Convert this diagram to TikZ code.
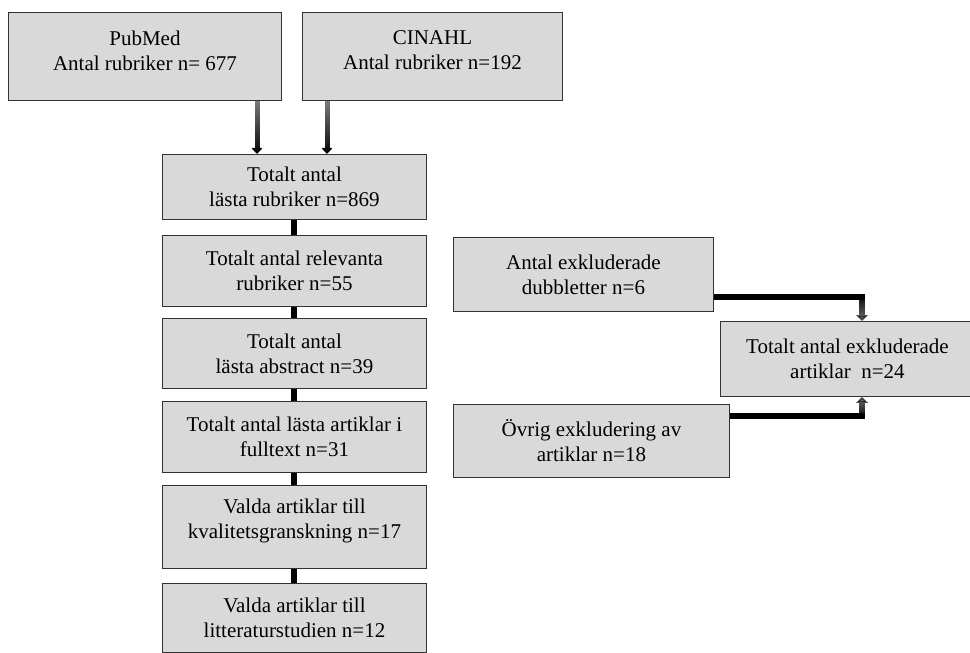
\documentclass[tikz,border=0pt]{standalone}
\usepackage{fontspec}
\setmainfont{Liberation Serif}
\usetikzlibrary{arrows.meta,fadings}
\definecolor{boxgray}{HTML}{D9D9D9}
\tikzfading[name=fadeup, top color=transparent!50, middle color=transparent!0, bottom color=transparent!0]
\tikzfading[name=fadedown, top color=transparent!0, middle color=transparent!10, bottom color=transparent!50]
\begin{document}
\begin{tikzpicture}[x=1pt,y=-1pt,
  box/.style={draw=black!80, line width=0.9pt, fill=boxgray, anchor=north west,
    inner sep=0pt, align=center, font=\fontsize{21}{25}\selectfont},
  txt/.style={align=center, inner sep=0pt, font=\fontsize{21}{25}\selectfont},
  chain/.style={line width=6pt, black},
  toparrow/.style={line width=5pt, black, -{Triangle[width=11pt,length=6pt]}, path fading=fadeup},
  sidebar/.style={line width=6pt, black, shorten >=-3pt},
  sidearrow/.style={line width=6pt, black, -{Triangle[width=12pt,length=6pt]}}]
\useasboundingbox (0,0) rectangle (970,653);

% left column
\node[box, minimum width=273pt, minimum height=88pt,
  label={[txt,yshift=6pt]center:{PubMed\\Antal rubriker n= 677}}] (pub) at (8,12) {};
\node[box, minimum width=260pt, minimum height=88pt,
  label={[txt,yshift=6pt]center:{CINAHL\\Antal rubriker n=192}}] (cin) at (302,12) {};
\node[box, minimum width=264pt, minimum height=65pt] (tot) at (162,154) {Totalt antal\\lästa rubriker n=869};
\node[box, minimum width=264pt, minimum height=71pt] (rel) at (162,235) {Totalt antal relevanta\\rubriker n=55};
\node[box, minimum width=264pt, minimum height=70pt] (abs) at (162,318) {Totalt antal\\lästa abstract n=39};
\node[box, minimum width=264pt, minimum height=71pt] (full) at (162,401) {Totalt antal lästa artiklar i\\fulltext n=31};
\node[box, minimum width=264pt, minimum height=83pt,
  label={[txt,yshift=6pt]center:{Valda artiklar till\\kvalitetsgranskning n=17}}] (kval) at (162,485) {};
\node[box, minimum width=264pt, minimum height=69pt] (lit) at (162,583) {Valda artiklar till\\litteraturstudien n=12};

% right column
\node[box, minimum width=260pt, minimum height=74pt] (dub) at (453,237) {Antal exkluderade\\dubbletter n=6};
\node[box, minimum width=254pt, minimum height=75pt] (excl) at (720,321) {Totalt antal exkluderade\\artiklar\ \ n=24};
\node[box, minimum width=276pt, minimum height=73pt] (ovr) at (453,404) {Övrig exkludering av\\artiklar n=18};

% top arrows
\coordinate (c1) at (257,0);
\coordinate (c2) at (327,0);
\draw[toparrow] (pub.south -| c1) -- (tot.north -| c1);
\draw[toparrow] (cin.south -| c2) -- (tot.north -| c2);

% main chain
\draw[chain] (tot) -- (rel);
\draw[chain] (rel) -- (abs);
\draw[chain] (abs) -- (full);
\draw[chain] (full) -- (kval);
\draw[chain] (kval) -- (lit);

% side connectors
\coordinate (k1) at (862,297);
\coordinate (k2) at (862,416);
\draw[sidebar] (dub.east |- k1) -- (k1);
\draw[sidearrow, path fading=fadedown] (k1) -- (excl.north -| k1);
\draw[sidebar] (ovr.east |- k2) -- (k2);
\draw[sidearrow, path fading=fadeup] (k2) -- (excl.south -| k2);
\end{tikzpicture}
\end{document}
